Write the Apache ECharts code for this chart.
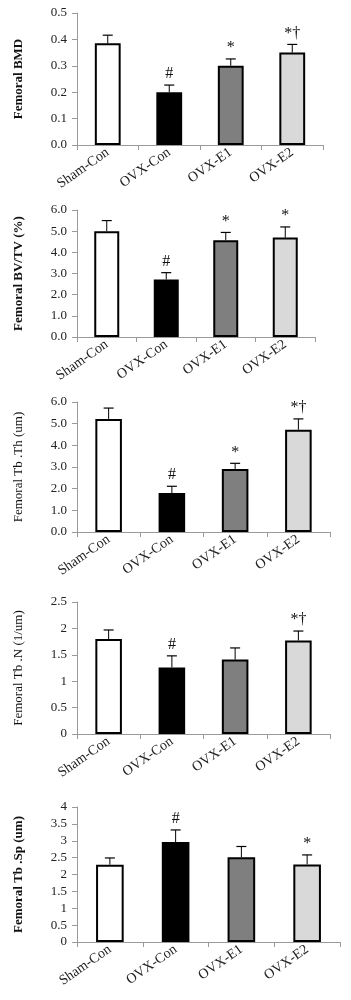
<!DOCTYPE html>
<html>
<head>
<meta charset="utf-8">
<script src="https://cdn.jsdelivr.net/npm/echarts@6/dist/echarts.min.js"></script>
<style>
  html, body { margin: 0; padding: 0; background: #fff; }
  #main { width: 351px; height: 1000px; }
</style>
</head>
<body>
<div id="main"></div>
<script>
// groups
var groups = ['Sham-Con', 'OVX-Con', 'OVX-E1', 'OVX-E2'];
var barColors = ['#ffffff', '#000000', '#7f7f7f', '#d9d9d9'];

// femoral BMD
var bmdMean = [0.385, 0.20, 0.30, 0.35];
var bmdSd = [0.031, 0.027, 0.026, 0.031];
var bmdMarks = ['', '#', '*', '*\u2020'];

// femoral BV/TV (%)
var bvtvMean = [5.0, 2.72, 4.57, 4.70];
var bvtvSd = [0.5, 0.32, 0.37, 0.50];
var bvtvMarks = ['', '#', '*', '*'];

// femoral Tb.Th (um)
var tbthMean = [5.22, 1.80, 2.91, 4.72];
var tbthSd = [0.50, 0.31, 0.26, 0.50];
var tbthMarks = ['', '#', '*', '*\u2020'];

// femoral Tb.N (1/um)
var tbnMean = [1.80, 1.26, 1.41, 1.77];
var tbnSd = [0.17, 0.22, 0.22, 0.18];
var tbnMarks = ['', '#', '', '*\u2020'];

// femoral Tb.Sp (um)
var tbspMean = [2.29, 2.96, 2.51, 2.30];
var tbspSd = [0.20, 0.36, 0.32, 0.28];
var tbspMarks = ['', '#', '', '*'];

var panels = [
    { name: 'Femoral BMD', mean: bmdMean, sd: bmdSd, marks: bmdMarks, max: 0.5, step: 0.1, dec: 1, bold: true,
      grid: { left: 77, top: 13, width: 246, height: 132 } },
    { name: 'Femoral BV/TV (%)', mean: bvtvMean, sd: bvtvSd, marks: bvtvMarks, max: 6, step: 1, dec: 1, bold: true,
      grid: { left: 77, top: 210, width: 238, height: 127 } },
    { name: 'Femoral Tb .Th (um)', mean: tbthMean, sd: tbthSd, marks: tbthMarks, max: 6, step: 1, dec: 1, bold: false,
      grid: { left: 77, top: 402, width: 253, height: 130 } },
    { name: 'Femoral Tb .N (1/um)', mean: tbnMean, sd: tbnSd, marks: tbnMarks, max: 2.5, step: 0.5, dec: -1, bold: false,
      grid: { left: 77, top: 602, width: 253, height: 132 } },
    { name: 'Femoral Tb .Sp (um)', mean: tbspMean, sd: tbspSd, marks: tbspMarks, max: 4, step: 0.5, dec: -1, bold: true,
      grid: { left: 77, top: 807, width: 263, height: 135 } }
];

var FONT = "'Liberation Serif', 'DejaVu Serif', serif";
var grids = [], xAxes = [], yAxes = [], series = [];

panels.forEach(function(p, i) {
    grids.push(p.grid);
    xAxes.push({
        type: 'category',
        gridIndex: i,
        data: groups,
        axisLine: { lineStyle: { color: '#9a9a9a', width: 1 } },
        axisTick: { show: true, length: 5, lineStyle: { color: '#9a9a9a' } },
        axisLabel: { interval: 0, rotate: 35, margin: 6, fontFamily: FONT, fontSize: 14, color: '#222' }
    });
    yAxes.push({
        type: 'value',
        gridIndex: i,
        min: 0,
        max: p.max,
        interval: p.step,
        name: p.name,
        nameLocation: 'middle',
        nameRotate: 90,
        nameGap: 52,
        nameTextStyle: { fontFamily: FONT, fontSize: 13, fontWeight: p.bold ? 'bold' : 'normal', color: '#111' },
        splitLine: { show: false },
        axisLine: { show: true, lineStyle: { color: '#9a9a9a', width: 1 } },
        axisTick: { show: true, length: 5, lineStyle: { color: '#9a9a9a' } },
        axisLabel: {
            margin: 10, fontFamily: FONT, fontSize: 13, color: '#222',
            formatter: function(v) { return p.dec > 0 ? v.toFixed(p.dec) : String(+v.toFixed(2)); }
        }
    });
    series.push({
        type: 'bar',
        xAxisIndex: i,
        yAxisIndex: i,
        barWidth: '42%',
        data: p.mean.map(function(v, k) {
            return { value: v, itemStyle: { color: barColors[k], borderColor: '#000', borderWidth: 2 } };
        }),
        silent: true
    });
    series.push({
        type: 'custom',
        xAxisIndex: i,
        yAxisIndex: i,
        z: 5,
        silent: true,
        data: p.mean.map(function(v, k) { return [k, v, v + p.sd[k]]; }),
        renderItem: function(params, api) {
            var k = api.value(0);
            var base = api.coord([k, api.value(1)]);
            var top = api.coord([k, api.value(2)]);
            var children = [
                { type: 'line', shape: { x1: base[0], y1: base[1], x2: top[0], y2: top[1] },
                  style: { stroke: '#000', lineWidth: 1 } },
                { type: 'line', shape: { x1: top[0] - 5, y1: top[1], x2: top[0] + 5, y2: top[1] },
                  style: { stroke: '#000', lineWidth: 1.2 } }
            ];
            var mark = p.marks[k];
            if (mark) {
                children.push({
                    type: 'text',
                    x: top[0], y: top[1] - 3,
                    style: { text: mark, fontFamily: FONT, fontSize: 16, fill: '#111',
                             align: 'center', verticalAlign: 'bottom' }
                });
            }
            return { type: 'group', children: children };
        }
    });
});

var myChart = echarts.init(document.getElementById('main'));
myChart.setOption({
    animation: false,
    backgroundColor: '#fff',
    grid: grids,
    xAxis: xAxes,
    yAxis: yAxes,
    series: series
});
</script>
</body>
</html>
